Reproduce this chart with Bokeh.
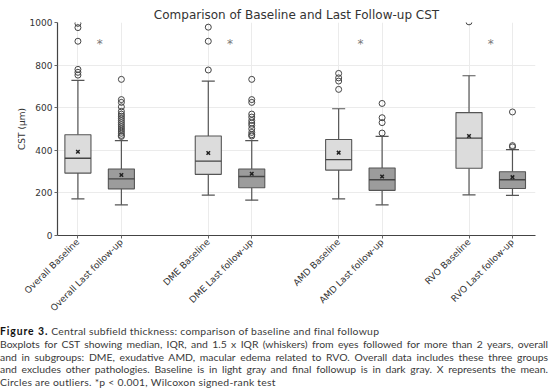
from bokeh.plotting import figure
from bokeh.models import FixedTicker, ColumnDataSource, Div
from bokeh.layouts import column
from bokeh.embed import file_html
from bokeh.resources import INLINE
from bokeh.core.properties import value

# ---------------- data ----------------
categories = ["Overall Baseline", "Overall Last follow-up", "DME Baseline", "DME Last follow-up",
              "AMD Baseline", "AMD Last follow-up", "RVO Baseline", "RVO Last follow-up"]
positions = [1, 2, 4, 5, 7, 8, 10, 11]
q1 = [293, 219, 287, 224, 307, 212, 316, 221]
median = [363, 266, 349, 277, 356, 262, 457, 262]
q3 = [473, 312, 467, 312, 451, 317, 577, 299]
whisker_low = [172, 144, 190, 166, 172, 144, 191, 188]
whisker_high = [728, 445, 725, 445, 595, 465, 750, 403]
means = [393, 284, 387, 290, 389, 277, 467, 274]
outliers = [
    [996, 976, 912, 780, 766, 753],
    [733, 638, 625, 604, 583, 570, 560, 550, 540, 530, 520, 510, 500, 490, 480, 470, 465],
    [978, 912, 777],
    [733, 638, 625, 570, 556, 540, 528, 517, 501, 484, 473, 467],
    [761, 740, 725, 686],
    [620, 553, 530, 481],
    [1003],
    [580, 422, 416],
]
star_positions = [1.5, 4.5, 7.5, 10.5]
star_values = [900, 900, 900, 900]
y_ticks = [0, 200, 400, 600, 800, 1000]

title_text = "Comparison of Baseline and Last Follow-up CST"
y_label = "CST (\u03bcm)"
caption_bold = "Figure 3."
caption_lines = [
    "Central subfield thickness: comparison of baseline and final followup",
    "Boxplots for CST showing median, IQR, and 1.5 x IQR (whiskers) from eyes followed for more than 2 years, overall",
    "and in subgroups: DME, exudative AMD, macular edema related to RVO. Overall data includes these three groups",
    "and excludes other pathologies. Baseline is in light gray and final followup is in dark gray. X represents the mean.",
    "Circles are outliers. *p &lt; 0.001, Wilcoxon signed-rank test",
]

# ---------------- styles ----------------
BASE_FILL = "#dcdcdc"
LAST_FILL = "#9c9c9c"
EDGE = "#555555"
BOX_W = 0.6
CAP_W = 0.3

fills = [BASE_FILL if i % 2 == 0 else LAST_FILL for i in range(len(positions))]

p = figure(width=550, height=320, x_range=(0.53, 11.53), y_range=(0, 1000),
           output_backend="svg", toolbar_location=None, title=title_text,
           min_border_left=57, min_border_right=15, min_border_top=22, min_border_bottom=85)
p.outline_line_color = None
p.background_fill_color = "white"
p.border_fill_color = "white"
p.title.align = "center"
p.title.text_font = "DejaVu Sans"
p.title.text_font_size = "12px"
p.title.text_font_style = "normal"
p.title.text_color = "#333333"
p.title.standoff = 2

src = ColumnDataSource(dict(
    x=positions, q1=q1, med=median, q3=q3, lo=whisker_low, hi=whisker_high, mean=means,
    fill=fills,
    cap_l=[x - CAP_W / 2 for x in positions], cap_r=[x + CAP_W / 2 for x in positions],
    box_l=[x - BOX_W / 2 for x in positions], box_r=[x + BOX_W / 2 for x in positions],
))

# whiskers
p.segment(x0="x", y0="lo", x1="x", y1="q1", source=src, line_color=EDGE, line_width=1.2)
p.segment(x0="x", y0="q3", x1="x", y1="hi", source=src, line_color=EDGE, line_width=1.2)
# caps
p.segment(x0="cap_l", y0="lo", x1="cap_r", y1="lo", source=src, line_color=EDGE, line_width=1.2)
p.segment(x0="cap_l", y0="hi", x1="cap_r", y1="hi", source=src, line_color=EDGE, line_width=1.2)
# boxes
p.vbar(x="x", width=BOX_W, bottom="q1", top="q3", source=src, fill_color="fill",
       line_color=EDGE, line_width=1.1)
# medians
p.segment(x0="box_l", y0="med", x1="box_r", y1="med", source=src, line_color="#444444", line_width=1.4)
# means
p.scatter(x="x", y="mean", source=src, marker="x", size=5, line_color="#222222", line_width=1.5)

# outliers
ox, oy = [], []
for x, vals in zip(positions, outliers):
    for v in vals:
        ox.append(x)
        oy.append(v)
p.scatter(ox, oy, marker="circle", size=6, fill_color=None, line_color="#444444", line_width=1)

# significance stars
p.text(x=star_positions, y=star_values, text=["*"] * len(star_positions),
       text_font=value("DejaVu Sans"), text_font_size="12px", text_color="#777777",
       text_align="center", text_baseline="middle")

# axes
p.xaxis.ticker = FixedTicker(ticks=positions)
p.xaxis.major_label_overrides = {x: c for x, c in zip(positions, categories)}
p.xaxis.major_label_orientation = 0.785398
p.yaxis.ticker = FixedTicker(ticks=y_ticks)
for ax in (p.xaxis[0], p.yaxis[0]):
    ax.axis_line_color = "#444444"
    ax.axis_line_width = 1.2
    ax.major_tick_line_color = "#666666"
    ax.major_tick_out = 3
    ax.major_tick_in = 0
    ax.minor_tick_out = 0
    ax.minor_tick_in = 0
    ax.major_label_text_font = "DejaVu Sans"
    ax.major_label_text_font_size = "9px"
    ax.major_label_text_color = "#333333"
    ax.major_label_standoff = 2
p.yaxis.axis_label = y_label
p.yaxis.axis_label_text_font = "DejaVu Sans"
p.yaxis.axis_label_text_font_size = "9px"
p.yaxis.axis_label_text_font_style = "normal"
p.yaxis.axis_label_text_color = "#333333"
p.yaxis.axis_label_standoff = 0

p.xgrid.ticker = FixedTicker(ticks=positions)
p.ygrid.ticker = FixedTicker(ticks=y_ticks)
p.xgrid.grid_line_color = "#ebebeb"
p.ygrid.grid_line_color = "#ebebeb"

# caption (lines 2-4 justified to the full width, as in the reference)
line_style = 'white-space: nowrap; width: 548px;'
loose_style = line_style + ' letter-spacing: 0.25px;'
just_style = line_style + ' text-align: justify; text-align-last: justify;'
parts = ['<div style="' + loose_style + '"><b style="color:#111111; letter-spacing: 0.9px;">'
         + caption_bold + '</b> ' + caption_lines[0] + '</div>']
for line in caption_lines[1:-1]:
    parts.append('<div style="' + just_style + '">' + line + '</div>')
parts.append('<div style="' + loose_style + '">' + caption_lines[-1] + '</div>')
html = ('<div style="font-family: Lato, sans-serif; font-size: 10.4px; line-height: 12.8px; '
        'color: #3a3a3a; padding-top: 5px; margin: 0;">' + ''.join(parts) + '</div>')
cap = Div(text=html, width=550, height=69, margin=0)

layout = column(p, cap, spacing=0)
open("out.html", "w").write(file_html(layout, INLINE))
